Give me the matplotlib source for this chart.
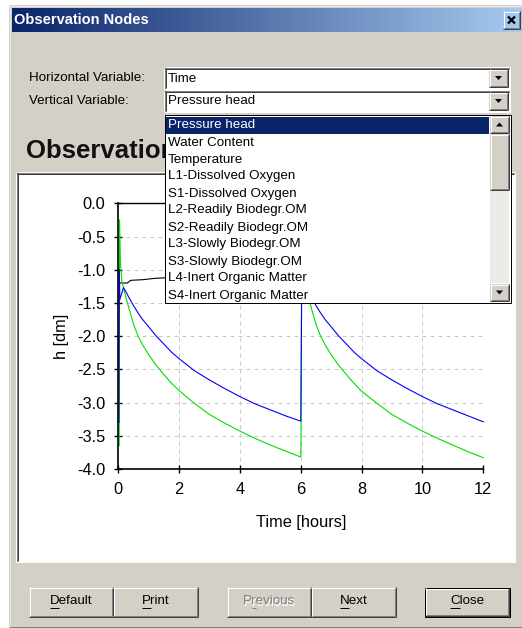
import numpy as np
import matplotlib
matplotlib.use('Agg')
import matplotlib.pyplot as plt
from matplotlib.patches import Rectangle, Polygon
from matplotlib.colors import LinearSegmentedColormap
from matplotlib.ticker import FormatStrFormatter

plt.rcParams['font.family'] = ['Liberation Sans', 'DejaVu Sans']
plt.rcParams['axes.unicode_minus'] = False

W, H = 522, 628

## Data
blue_t = [0.00, 0.02, 0.035, 0.05, 0.17, 0.25, 0.35, 0.50, 0.65, 0.80, 1.00, 1.25, 1.50,
          1.75, 2.00, 2.50, 3.00, 3.50, 4.00, 4.50, 5.00, 5.50, 6.00,
          6.01, 6.035, 6.05, 6.17, 6.25, 6.35, 6.50, 6.65, 6.80, 7.00, 7.25, 7.50,
          7.75, 8.00, 8.50, 9.00, 9.50, 10.00, 10.50, 11.00, 11.50, 12.00]
blue_h = [-3.30, -3.30, -1.00, -1.45, -1.27, -1.33, -1.42, -1.54, -1.65, -1.75, -1.86, -2.00, -2.12,
          -2.24, -2.34, -2.52, -2.66, -2.79, -2.91, -3.02, -3.11, -3.20, -3.28,
          -2.55, -1.00, -1.45, -1.27, -1.33, -1.42, -1.54, -1.65, -1.75, -1.86, -2.00, -2.12,
          -2.24, -2.34, -2.52, -2.66, -2.79, -2.91, -3.02, -3.11, -3.20, -3.29]

green_t = [0.00, 0.03, 0.04, 0.07, 0.12, 0.20, 0.30, 0.40, 0.50, 0.65, 0.80, 1.00, 1.25,
           1.50, 1.75, 2.00, 2.50, 3.00, 3.50, 4.00, 4.50, 5.00, 5.50, 6.00,
           6.01, 6.03, 6.07, 6.12, 6.20, 6.30, 6.40, 6.50, 6.65, 6.80, 7.00, 7.25,
           7.50, 7.75, 8.00, 8.50, 9.00, 9.50, 10.00, 10.50, 11.00, 11.50, 12.00]
green_h = [-3.65, -3.65, -0.25, -0.90, -1.18, -1.33, -1.50, -1.66, -1.82, -2.00, -2.13, -2.28, -2.44,
           -2.58, -2.71, -2.82, -3.01, -3.18, -3.31, -3.43, -3.54, -3.64, -3.73, -3.82,
           -3.30, -0.30, -0.90, -1.18, -1.33, -1.50, -1.66, -1.82, -2.00, -2.13, -2.28, -2.44,
           -2.58, -2.71, -2.83, -3.01, -3.18, -3.31, -3.43, -3.54, -3.64, -3.74, -3.83]

black_t = [0.00, 0.30, 0.40, 0.80, 1.20, 1.60, 3.00, 6.00, 9.00, 12.00]
black_h = [-1.20, -1.20, -1.16, -1.15, -1.13, -1.12, -1.06, -0.98, -0.92, -0.88]

x_ticks = [0, 2, 4, 6, 8, 10, 12]
y_ticks = [0.0, -0.5, -1.0, -1.5, -2.0, -2.5, -3.0, -3.5, -4.0]

list_items = ['Pressure head', 'Water Content', 'Temperature', 'L1-Dissolved Oxygen',
              'S1-Dissolved Oxygen', 'L2-Readily Biodegr.OM', 'S2-Readily Biodegr.OM',
              'L3-Slowly Biodegr.OM', 'S3-Slowly Biodegr.OM', 'L4-Inert Organic Matter',
              'S4-Inert Organic Matter']
buttons = ['Default', 'Print', 'Previous', 'Next', 'Close']
mnemonic = [0, 0, 1, 0, 0]

FACE, SHADOW, DARK, LIGHT, NAVY = '#D4D0C8', '#808080', '#404040', '#FFFFFF', '#0A246A'
PX = 0.72  # one pixel in points at dpi 100
UI = 9.6


def hl(ax, x0, x1, y, c):
    ax.plot([x0, x1], [y, y], color=c, lw=PX, solid_capstyle='butt')


def vl(ax, x, y0, y1, c):
    ax.plot([x, x], [y0, y1], color=c, lw=PX, solid_capstyle='butt')


def raised(ax, x0, y0, x1, y1, default=False):
    ax.add_patch(Rectangle((x0, y0), x1 - x0, y1 - y0, fc=FACE, ec='none'))
    if default:
        ax.add_patch(Rectangle((x0 + 0.5, y0 + 0.5), x1 - x0 - 1, y1 - y0 - 1,
                               fc='none', ec='black', lw=PX))
        x0, y0, x1, y1 = x0 + 1, y0 + 1, x1 - 1, y1 - 1
    hl(ax, x0, x1, y0 + 0.5, LIGHT)
    vl(ax, x0 + 0.5, y0, y1, LIGHT)
    hl(ax, x0, x1, y1 - 0.5, DARK)
    vl(ax, x1 - 0.5, y0, y1, DARK)
    hl(ax, x0 + 1, x1 - 1, y1 - 1.5, SHADOW)
    vl(ax, x1 - 1.5, y0 + 1, y1 - 1, SHADOW)


def sunken(ax, x0, y0, x1, y1, fc='white'):
    ax.add_patch(Rectangle((x0, y0), x1 - x0, y1 - y0, fc=fc, ec='none'))
    hl(ax, x0, x1, y0 + 0.5, SHADOW)
    vl(ax, x0 + 0.5, y0, y1, SHADOW)
    hl(ax, x0 + 1, x1 - 1, y0 + 1.5, DARK)
    vl(ax, x0 + 1.5, y0 + 1, y1 - 1, DARK)
    hl(ax, x0, x1, y1 - 0.5, LIGHT)
    vl(ax, x1 - 0.5, y0, y1, LIGHT)


def arrow(ax, cx, cy, up=False):
    s = -1 if up else 1
    ax.add_patch(Polygon([(cx - 3.5, cy - 2 * s), (cx + 3.5, cy - 2 * s), (cx, cy + 2 * s)],
                         closed=True, fc='black', ec='none'))


fig = plt.figure(figsize=(W / 100, H / 100), dpi=100, facecolor='white')

## Dialog background
bg = fig.add_axes([0, 0, 1, 1], zorder=0)
bg.set_xlim(0, W)
bg.set_ylim(H, 0)
bg.axis('off')

bg.add_patch(Rectangle((9, 5), W - 9, 622, fc=FACE, ec='none', zorder=0.5))
vl(bg, 9.5, 5, 627, '#E8E6E2')
hl(bg, 9, W, 5.5, '#E8E6E2')
hl(bg, 9, W, 626.5, SHADOW)

cmap = LinearSegmentedColormap.from_list('title', [NAVY, '#A6CAF0'])
bg.imshow(np.linspace(0, 1, 256)[None, :], cmap=cmap, extent=(12, W, 32, 8),
          aspect='auto', zorder=1.5)
bg.set_xlim(0, W)
bg.set_ylim(H, 0)
bg.text(14, 20.5, 'Observation Nodes', color='white', fontsize=10.5, fontweight='bold',
        va='center', ha='left', zorder=3)
raised(bg, 503, 11, 520, 29)
bg.plot([508, 515], [16.5, 23.5], color='black', lw=1.6, solid_capstyle='butt')
bg.plot([508, 515], [23.5, 16.5], color='black', lw=1.6, solid_capstyle='butt')

bg.text(29, 78, 'Horizontal Variable:', fontsize=UI, va='center')
bg.text(29, 101, 'Vertical Variable:', fontsize=UI, va='center')

for (y0, y1, txt) in [(67, 89, 'Time'), (90, 112, 'Pressure head')]:
    sunken(bg, 164, y0, 510, y1)
    bg.text(168, (y0 + y1) / 2 + 0.5, txt, fontsize=UI, va='center')
    raised(bg, 489, y0 + 2, 508, y1 - 2)
    arrow(bg, 498.5, (y0 + y1) / 2)

sunken(bg, 16, 172, 515, 562)
bg.text(26, 151, 'Observation', fontsize=18.5, fontweight='bold',
        va='center', ha='left', color='#111111')

## Buttons
renderer = fig.canvas.get_renderer()
bx = [(29, 113), (113, 198), (227, 311), (311, 396), (424, 510)]
for i, (label, (x0, x1)) in enumerate(zip(buttons, bx)):
    raised(bg, x0, 587, x1, 617, default=(label == 'Close'))
    cx, cy = (x0 + x1) / 2, 601.5
    color = 'black'
    if label == 'Previous':
        color = SHADOW
        bg.text(cx + 1, cy + 1, label, fontsize=UI, ha='center', va='center', color='white')
    t = bg.text(cx, cy, label, fontsize=UI, ha='center', va='center', color=color)
    # underline the access key
    full = t.get_window_extent(renderer).width
    pre = bg.text(0, 0, label[:mnemonic[i]], fontsize=UI)
    upto = bg.text(0, 0, label[:mnemonic[i] + 1], fontsize=UI)
    w_pre = pre.get_window_extent(renderer).width if mnemonic[i] else 0
    w_upto = upto.get_window_extent(renderer).width
    pre.remove()
    upto.remove()
    left = cx - full / 2
    hl(bg, left + w_pre, left + w_upto, cy + 6.5, color)

## Chart
ax = fig.add_axes([118.3 / W, 1 - 469 / H, 365 / W, 265.7 / H], zorder=1)
ax.patch.set_visible(False)
ax.axhline(0, color='black', lw=1.0, clip_on=False)
ax.plot(black_t, black_h, color='black', lw=0.8, clip_on=False)
ax.plot(green_t, green_h, color='#00E000', lw=0.8, clip_on=False)
ax.plot(blue_t, blue_h, color='#0000FF', lw=0.8, clip_on=False)

ax.set_xlim(0, 12)
ax.set_ylim(-4, 0)
ax.set_xticks(x_ticks)
ax.set_yticks(y_ticks)
ax.yaxis.set_major_formatter(FormatStrFormatter('%.1f'))
ax.spines['top'].set_visible(False)
ax.spines['right'].set_visible(False)
for s in ['left', 'bottom']:
    ax.spines[s].set_linewidth(1.2)
    ax.spines[s].set_color('black')
ax.tick_params(direction='inout', length=6, width=1.0, labelsize=11.8, colors='black')
ax.tick_params(axis='y', pad=6.3)
ax.tick_params(axis='x', pad=6.5)
ax.grid(True, color='#C8C8C8', lw=0.72, linestyle=(0, (4, 4)))
ax.get_xgridlines()[-1].set_visible(False)
ax.get_ygridlines()[0].set_visible(False)
ax.set_xlabel('Time [hours]', fontsize=11.8, labelpad=13)
ax.set_ylabel('h [dm]', fontsize=11.8, labelpad=6)

## Drop-down list on top of everything
ov = fig.add_axes([0, 0, 1, 1], zorder=3)
ov.set_xlim(0, W)
ov.set_ylim(H, 0)
ov.axis('off')
ov.add_patch(Rectangle((164.5, 114.5), 346, 188, fc='white', ec='black', lw=PX))
ov.add_patch(Rectangle((166, 117), 323, 16.5, fc=NAVY, ec='none'))
for i, item in enumerate(list_items):
    ov.text(168, 125.5 + 17 * i, item, fontsize=UI, va='center',
            color='white' if i == 0 else 'black')
ov.add_patch(Rectangle((490, 133), 19, 150, fc='#ECEAE6', ec='none'))
raised(ov, 490, 116, 509, 133)
arrow(ov, 499.5, 124.5, up=True)
raised(ov, 490, 134, 509, 190)
raised(ov, 490, 284, 509, 301)
arrow(ov, 499.5, 292.5)

fig.savefig('out.png', dpi=100, facecolor='white')
